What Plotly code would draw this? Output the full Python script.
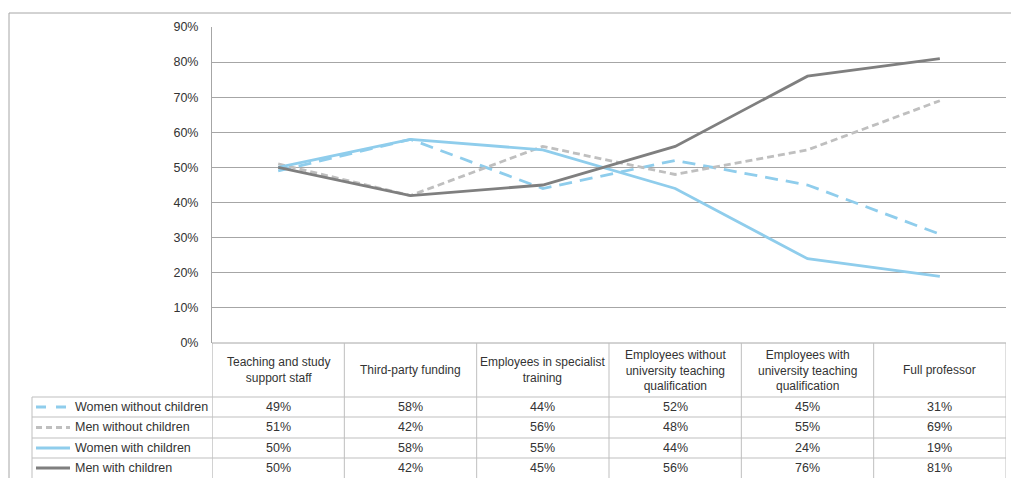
import plotly.graph_objects as go

categories = [
    "Teaching and study<br>support staff",
    "Third-party funding",
    "Employees in specialist<br>training",
    "Employees without<br>university teaching<br>qualification",
    "Employees with<br>university teaching<br>qualification",
    "Full professor",
]
series_names = ["Women without children", "Men without children",
                "Women with children", "Men with children"]
women_without = [49, 58, 44, 52, 45, 31]
men_without = [51, 42, 56, 48, 55, 69]
women_with = [50, 58, 55, 44, 24, 19]
men_with = [50, 42, 45, 56, 76, 81]
y_ticks = [0, 10, 20, 30, 40, 50, 60, 70, 80, 90]

series_values = [women_without, men_without, women_with, men_with]
styles = [
    dict(color="#8FCDEC", dash="13px,8px"),
    dict(color="#BFBFBF", dash="7px,4px"),
    dict(color="#8FCDEC", dash="solid"),
    dict(color="#7F7F7F", dash="solid"),
]
key_dash = ["10px,10px", "6px,4px", "solid", "solid"]

W, H = 1011, 478
L, R, T, B = 212, 1006, 27, 343
PW, PH = R - L, B - T
FONT = "Liberation Sans"
FS = 12.5
FS_HEAD = 12
TXT = "#333333"
GRID = "#A6A6A6"
TBL = "#BFBFBF"


def px_x(px):
    return (px - L) / PW


def px_y(py):
    return (B - py) / PH


xs = list(range(len(categories)))
fig = go.Figure()
for name, vals, st in zip(series_names, series_values, styles):
    fig.add_trace(go.Scatter(
        x=xs, y=[v / 100 for v in vals], mode="lines", name=name,
        line=dict(color=st["color"], width=2.8, dash=st["dash"]),
        hoverinfo="skip"))

shapes = []
annotations = []

# outer border
shapes.append(dict(type="rect", xref="paper", yref="paper",
                   x0=px_x(9), x1=px_x(1020), y0=px_y(13), y1=px_y(490),
                   line=dict(color=GRID, width=1), layer="below"))

# table lines
rows = [397, 417, 438, 458, 478]
n = len(categories)
shapes.append(dict(type="line", xref="x", yref="paper", x0=-0.5, x1=n - 0.5,
                   y0=0, y1=0, line=dict(color=GRID, width=1)))
for k in range(n + 1):
    shapes.append(dict(type="line", xref="x", yref="paper", x0=k - 0.5, x1=k - 0.5,
                       y0=0, y1=px_y(480), line=dict(color=GRID if k == 0 else TBL, width=1)))
for r in rows[:-1]:
    shapes.append(dict(type="line", xref="paper", yref="paper", x0=px_x(32), x1=1.0,
                       y0=px_y(r), y1=px_y(r), line=dict(color=TBL, width=1)))
shapes.append(dict(type="line", xref="paper", yref="paper", x0=px_x(32), x1=px_x(32),
                   y0=px_y(397), y1=px_y(480), line=dict(color=TBL, width=1)))

# header texts
for i, c in enumerate(categories):
    annotations.append(dict(x=i, xref="x", y=px_y(370), yref="paper", text=c,
                            showarrow=False, xanchor="center", yanchor="middle",
                            align="center", font=dict(family=FONT, size=FS_HEAD, color=TXT)))

# data rows
for j, (name, vals) in enumerate(zip(series_names, series_values)):
    yc = px_y((rows[j] + rows[j + 1]) / 2)
    shapes.append(dict(type="line", xref="paper", yref="paper", x0=px_x(36), x1=px_x(70),
                       y0=yc, y1=yc,
                       line=dict(color=styles[j]["color"], width=2.8, dash=key_dash[j])))
    annotations.append(dict(x=px_x(73), xref="paper", y=yc, yref="paper", text=name,
                            showarrow=False, xanchor="left", yanchor="middle",
                            font=dict(family=FONT, size=FS, color=TXT)))
    for i, v in enumerate(vals):
        annotations.append(dict(x=i, xref="x", y=yc, yref="paper", text=f"{v}%",
                                showarrow=False, xanchor="center", yanchor="middle",
                                font=dict(family=FONT, size=FS, color=TXT)))

fig.update_layout(
    width=W, height=H, autosize=False,
    margin=dict(l=L, r=W - R, t=T, b=H - B, pad=0),
    paper_bgcolor="white", plot_bgcolor="white",
    showlegend=False,
    xaxis=dict(range=[-0.5, n - 0.5], showticklabels=False, showgrid=False,
               zeroline=False, showline=False, fixedrange=True),
    yaxis=dict(range=[0, 0.9], tickvals=[t / 100 for t in y_ticks],
               ticktext=[f"{t}%" for t in y_ticks],
               showgrid=True, gridcolor=GRID, gridwidth=1,
               zeroline=False, showline=True, linecolor=GRID, linewidth=1,
               ticks="", ticklabelstandoff=10,
               tickfont=dict(family=FONT, size=FS, color=TXT), fixedrange=True),
    shapes=shapes, annotations=annotations,
)

fig.write_html("out.html")
